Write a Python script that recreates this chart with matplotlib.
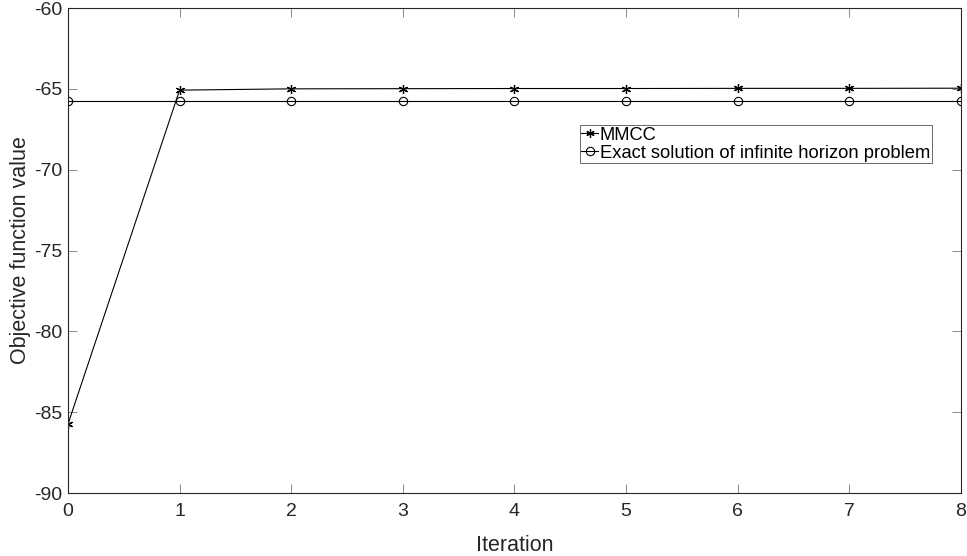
import numpy as np
import matplotlib.pyplot as plt

plt.rcParams['font.family'] = ['Liberation Sans', 'DejaVu Sans']
plt.rcParams['axes.unicode_minus'] = False

# data
iterations = [0, 1, 2, 3, 4, 5, 6, 7, 8]
mmcc = [-85.74, -65.08, -65.0, -64.99, -64.98, -64.98, -64.97, -64.97, -64.96]
exact = [-65.78] * len(iterations)

fig = plt.figure(figsize=(9.67, 5.56), dpi=100)
ax = fig.add_axes([0.0703, 0.1133, 0.9233, 0.8723])

ax.plot(iterations, mmcc, color='black', linewidth=0.8, marker=(6, 2, 0),
        markersize=6.5, markeredgewidth=0.9, label='MMCC')
ax.plot(iterations, exact, color='black', linewidth=0.8, marker='o',
        markersize=6, markerfacecolor='none', markeredgewidth=0.8,
        label='Exact solution of infinite horizon problem')

ax.set_xlim(0, 8)
ax.set_ylim(-90, -60)
ax.set_xticks(range(0, 9))
ax.set_yticks(range(-90, -59, 5))
ax.tick_params(direction='in', top=True, right=True, labelsize=14,
               length=6.5, width=0.6, color='#777777', labelcolor='#262626')
ax.tick_params(axis='x', pad=7)
ax.tick_params(axis='y', pad=4)
for s in ax.spines.values():
    s.set_linewidth(0.8)
    s.set_color('#262626')

ax.set_xlabel('Iteration', fontsize=15.5, color='#262626', labelpad=11)
ax.set_ylabel('Objective function value', fontsize=15.5, color='#262626', labelpad=2.5)

leg = ax.legend(loc='upper left', bbox_to_anchor=(0.573, 0.759), fontsize=13.2,
                frameon=True, fancybox=False, borderpad=0.1, handlelength=0.9,
                handletextpad=0.1, labelspacing=0.05, borderaxespad=0)
leg.get_frame().set_edgecolor('#262626')
leg.get_frame().set_linewidth(0.6)
for h in leg.legend_handles:
    h.set_markersize(6)

fig.savefig('out.png', dpi=100)
